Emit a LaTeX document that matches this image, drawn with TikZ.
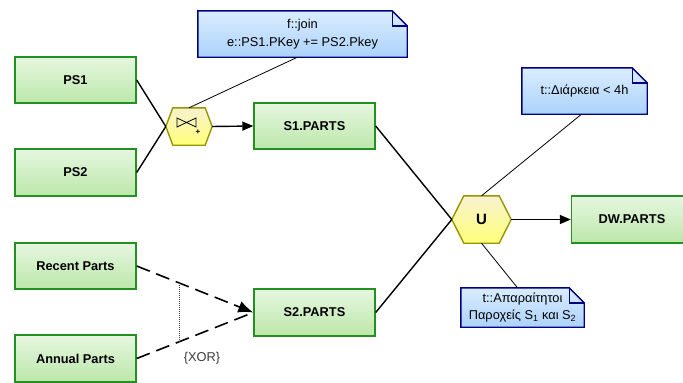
\documentclass[tikz,border=0pt]{standalone}
\usepackage{fontspec}
\setmainfont{Liberation Sans}
\usetikzlibrary{arrows.meta,backgrounds}

\definecolor{boxedge}{RGB}{34,145,34}
\definecolor{boxdeep}{RGB}{188,231,170}
\definecolor{boxpale}{RGB}{230,247,224}
\definecolor{noteedge}{RGB}{0,0,128}
\definecolor{notedeep}{RGB}{172,210,250}
\definecolor{notepale}{RGB}{218,237,255}
\definecolor{hexedge}{RGB}{150,150,0}
\definecolor{hexdeep}{RGB}{255,255,120}
\definecolor{hexpale}{RGB}{248,242,208}
\definecolor{xorgray}{RGB}{60,60,60}

% the picture runs with y pointing down, so the shading keys are swapped:
% the deep tint sits at the top edge on the page
\tikzset{
  table/.style={draw=boxedge, line width=1.4pt, bottom color=boxdeep, top color=boxpale,
    minimum width=121pt, minimum height=46pt, inner sep=0pt,
    font=\fontsize{12.8}{14}\selectfont\bfseries},
  notecore/.style={inner sep=0pt, align=center,
    font=\fontsize{12.8}{17.5}\selectfont},
  notepaint/.style={draw=noteedge, line width=1.4pt, line join=miter,
    bottom color=notedeep, top color=notepale},
  foldline/.style={draw=noteedge, line width=1.4pt, line join=miter},
  hexcore/.style={inner sep=0pt},
  hexpaint/.style={draw=hexedge, line width=1.4pt, line join=miter,
    bottom color=hexdeep, top color=hexpale},
  wire/.style={draw=black, line width=1.4pt},
  notewire/.style={draw=black, line width=0.8pt},
  dashwire/.style={draw=black, line width=1.6pt, dash pattern=on 14pt off 7pt},
  xorline/.style={draw=xorgray, line width=0.6pt, dash pattern=on 1pt off 1pt},
  headarrow/.style={-{Triangle[length=11pt,width=9pt]}},
  dashhead/.style={-{Latex[length=15pt,width=12pt]}}
}

% note paper with a folded top-right corner, drawn behind node #1
\newcommand\notepaper[1]{%
  \path[notepaint] (#1.north west) -- ([xshift=-15pt]#1.north east)
    -- ([yshift=-15pt]#1.north east) -- (#1.south east) -- (#1.south west) -- cycle;
  \draw[foldline] ([xshift=-15pt]#1.north east) |- ([yshift=-15pt]#1.north east);
}
% flat-topped hexagon behind node #1, with corner inset #2
\newcommand\hexpaper[2]{%
  \path[hexpaint] (#1.west) -- ([xshift=#2]#1.north west) -- ([xshift=-#2]#1.north east)
    -- (#1.east) -- ([xshift=-#2]#1.south east) -- ([xshift=#2]#1.south west) -- cycle;
}

\begin{document}
\begin{tikzpicture}[x=1pt,y=-1pt]
  \useasboundingbox (0,0) rectangle (683,383);

  % source and target tables
  \node[table] (ps1) at (75.5,80) {PS1};
  \node[table, minimum height=47pt] (ps2) at (75.5,172.5) {PS2};
  \node[table] (rp) at (75.5,266) {Recent Parts};
  \node[table, minimum height=47pt] (ap) at (75.5,358.5) {Annual Parts};
  \node[table] (s1) at (314.5,126) {S1.PARTS};
  \node[table, minimum height=47pt] (s2) at (314.5,312.5) {S2.PARTS};
  \node[table, minimum height=47pt] (dw) at (632,219.5) {DW.PARTS};

  % operations
  \node[hexcore, minimum width=46pt, minimum height=37pt] (j) at (189,126.5) {};
  \node[hexcore, minimum width=59pt, minimum height=47pt,
        font=\fontsize{15}{15}\selectfont\bfseries] (u) at (481.5,219.5) {U};

  % notes
  \node[notecore, minimum width=209pt, minimum height=46pt] (n1) at (302.5,34)
    {f::join\\e::PS1.PKey += PS2.Pkey};
  \node[notecore, minimum width=125pt, minimum height=46pt] (n2) at (584.5,91)
    {t::Διάρκεια < 4h};
  \node[notecore, minimum width=123pt, minimum height=39pt] (n3) at (522.5,307.5)
    {t::Απαραίτητοι\\Παροχείς S\textsubscript{1} και S\textsubscript{2}};

  \begin{scope}[on background layer]
    \hexpaper{j}{7pt}
    \hexpaper{u}{12pt}
    \notepaper{n1}
    \notepaper{n2}
    \notepaper{n3}
  \end{scope}

  % join symbol inside the join operation
  \draw[line width=0.8pt, line join=miter]
    ([shift={(-12pt,-0.5pt)}]j.center) -- ([shift={(-12pt,8.5pt)}]j.center)
    -- ([shift={(7pt,-0.5pt)}]j.center) -- ([shift={(7pt,8.5pt)}]j.center) -- cycle;
  \node[inner sep=0pt, font=\fontsize{8}{8}\selectfont\bfseries] (jplus)
    at ([shift={(9pt,-5.5pt)}]j.center) {+};

  % flows
  \draw[wire] (ps1.east) -- (j.west);
  \draw[wire] (ps2.east) -- (j.west);
  \draw[wire, headarrow] (j.east) -- (s1.west);
  \draw[wire] (s1.east) -- (u.west);
  \draw[wire] (s2.east) -- (u.west);
  \draw[wire, headarrow] (u.east) -- (dw.west);

  % alternative sources
  \draw[dashwire, dashhead] (rp.east) -- coordinate[pos=0.364] (xa) (s2.west);
  \draw[dashwire] (ap.east) -- coordinate[pos=0.364] (xb) (s2.west);
  \draw[xorline] (xa) -- (xb);
  \node[inner sep=0pt, text=xorgray, font=\fontsize{12.8}{14}\selectfont] (xor)
    at (202,358) {\{XOR\}};

  % note attachments
  \draw[notewire] ([xshift=-5pt]n1.south) -- (j.north);
  \draw[notewire] ([xshift=-3pt]n2.south) -- (u.north);
  \draw[notewire] ([xshift=-5pt]n3.north) -- (u.south);
\end{tikzpicture}
\end{document}
